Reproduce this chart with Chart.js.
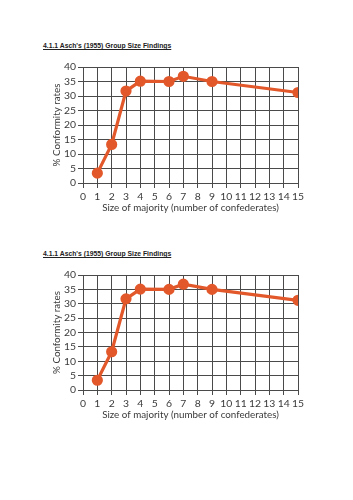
<!DOCTYPE html>
<html>
<head>
    <meta charset="UTF-8">
    <title>Asch Group Size Findings</title>
    <script src="https://cdn.jsdelivr.net/npm/chart.js@4/dist/chart.umd.min.js"></script>
    <style>
        body { margin: 0; background: #fff; width: 353px; height: 500px; position: relative; overflow: hidden; }
        .heading {
            position: absolute; left: 43px;
            font-family: "Liberation Sans", Arial, sans-serif; font-weight: bold;
            font-size: 6.8px; color: #222; text-decoration: underline; white-space: nowrap;
        }
        canvas { position: absolute; left: 0; }
    </style>
</head>
<body>
    <div class="heading" style="top:42px">4.1.1 Asch's (1955) Group Size Findings</div>
    <canvas id="chart1" width="353" height="159" style="top:55px"></canvas>

    <div class="heading" style="top:250px">4.1.1 Asch's (1955) Group Size Findings</div>
    <canvas id="chart2" width="353" height="158" style="top:263px"></canvas>

    <script type="text/javascript">
        // data
        var majoritySize = [1, 2, 3, 4, 6, 7, 9, 15];
        var conformityRate = [3.4, 13.3, 31.7, 35.1, 35.0, 36.8, 35.0, 31.2];
        var xTitle = "Size of majority (number of confederates)";
        var yTitle = "% Conformity rates";

        var lineColor = "#e2582a";
        var gridColor = "#4a4a4a";
        var textColor = "#3a3a3a";
        var tickFont = { family: "Lato, sans-serif", size: 10.4 };
        var titleFont = { family: "Lato, sans-serif", size: 9.8 };

        function makeChart(id) {
            var points = [];
            for (var i = 0; i < majoritySize.length; i++) {
                points.push({ x: majoritySize[i], y: conformityRate[i] });
            }
            return new Chart(id, {
                type: "line",
                data: {
                    datasets: [{
                        data: points,
                        borderColor: lineColor,
                        backgroundColor: lineColor,
                        borderWidth: 3.2,
                        pointRadius: 4,
                        pointHoverRadius: 4,
                        fill: false,
                        tension: 0
                    }]
                },
                options: {
                    responsive: false,
                    animation: false,
                    events: [],
                    layout: { padding: { top: 12, right: 55, bottom: 0, left: 0 } },
                    plugins: { legend: { display: false }, tooltip: { enabled: false } },
                    scales: {
                        x: {
                            type: "linear",
                            min: 0, max: 15,
                            ticks: { stepSize: 1, autoSkip: false, color: textColor, font: tickFont, padding: 2, maxRotation: 0 },
                            grid: { color: gridColor, tickColor: gridColor, tickLength: 5, lineWidth: 1 },
                            border: { color: gridColor },
                            title: { display: true, text: xTitle, color: textColor, font: titleFont, padding: 0 },
                            afterFit: function (s) { s.height = 31; }
                        },
                        y: {
                            min: 0, max: 40,
                            ticks: { stepSize: 5, autoSkip: false, color: textColor, font: tickFont, padding: 2 },
                            grid: { color: gridColor, tickColor: gridColor, tickLength: 5, lineWidth: 1 },
                            border: { color: gridColor },
                            title: { display: true, text: yTitle, color: textColor, font: titleFont, padding: { top: 51, bottom: 0 } },
                            afterFit: function (s) { s.width = 83; }
                        }
                    }
                }
            });
        }

        makeChart("chart1");
        makeChart("chart2");
    </script>
</body>
</html>
